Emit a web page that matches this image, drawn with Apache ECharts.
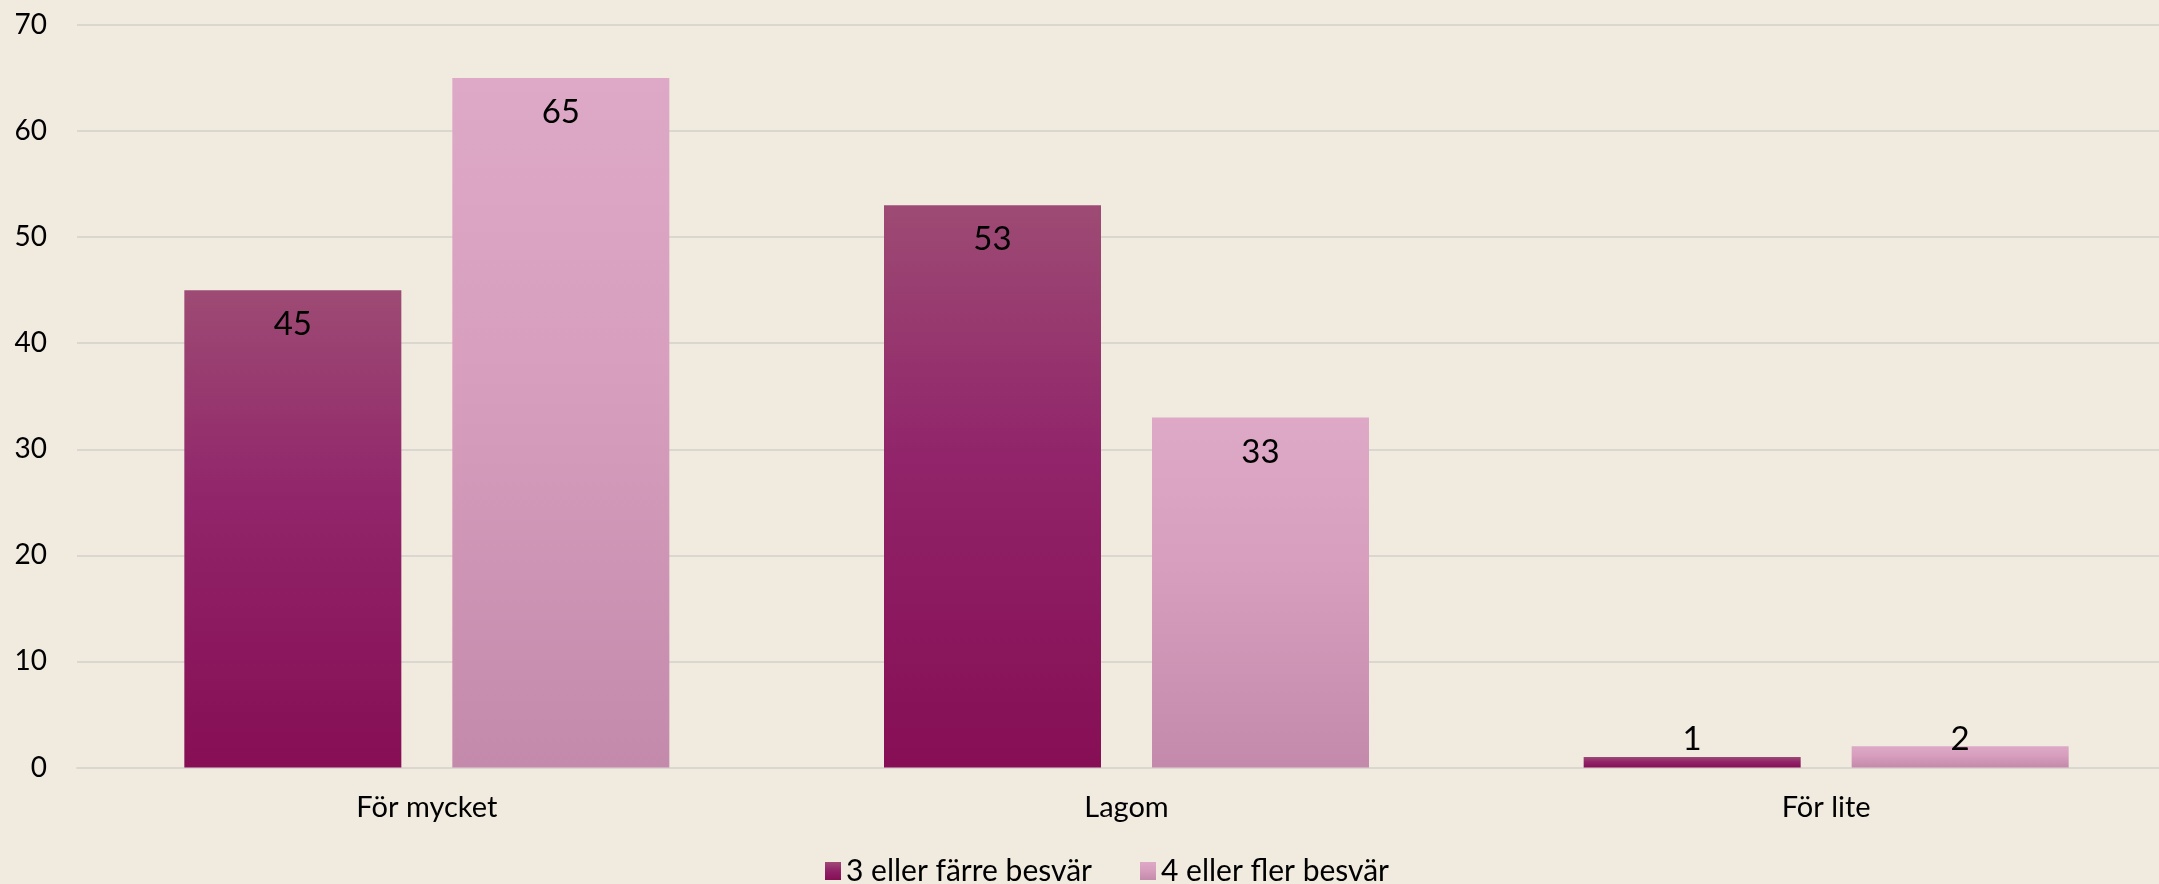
<!DOCTYPE html>
<html>
<head>
<meta charset="utf-8">
<script src="https://cdn.jsdelivr.net/npm/echarts@6/dist/echarts.min.js"></script>
<style>
html,body{margin:0;padding:0;background:#F0EADF;}
#chart{width:2159px;height:884px;}
</style>
</head>
<body>
<div id="chart"></div>
<script>
var categories = ['För mycket', 'Lagom', 'För lite'];
var seriesNames = ['3 eller färre besvär', '4 eller fler besvär'];
var valuesFew = [45, 53, 1];
var valuesMany = [65, 33, 2];
var yTicks = [0, 10, 20, 30, 40, 50, 60, 70];

var FONT = 'Lato, "Open Sans", sans-serif';

function grad(stops) {
  return new echarts.graphic.LinearGradient(0, 0, 0, 1, stops);
}
var darkFill = grad([
  {offset: 0, color: '#9D4B74'},
  {offset: 0.45, color: '#91246A'},
  {offset: 1, color: '#860E54'}
]);
var lightFill = grad([
  {offset: 0, color: '#DDA9C6'},
  {offset: 0.4, color: '#D89FBF'},
  {offset: 1, color: '#C38AAB'}
]);

function buildData(arr) {
  return arr.map(function (v) {
    if (v < 5) {
      return {value: v, label: {position: 'insideBottom', distance: 12}};
    }
    return {value: v};
  });
}

var labelStyle = {
  show: true,
  position: 'insideTop',
  distance: 18,
  color: '#000000',
  fontFamily: FONT,
  fontSize: 33
};

var chart = echarts.init(document.getElementById('chart'), null, {renderer: 'canvas'});
chart.setOption({
  backgroundColor: '#F0EADF',
  animation: false,
  textStyle: {fontFamily: FONT},
  grid: {left: 77, width: 2099, top: 25, bottom: 116.5, containLabel: false, outerBoundsMode: 'none'},
  legend: {
    data: seriesNames,
    left: 820,
    top: 851,
    itemWidth: 16,
    itemHeight: 18,
    itemGap: 48,
    textStyle: {fontFamily: FONT, fontSize: 30, color: '#000000'},
    icon: 'rect'
  },
  xAxis: {
    type: 'category',
    data: categories,
    axisLine: {show: true, lineStyle: {color: '#DAD7D1', width: 2}},
    axisTick: {show: false},
    axisLabel: {fontFamily: FONT, fontSize: 29, color: '#000000', margin: 26}
  },
  yAxis: {
    type: 'value',
    min: yTicks[0],
    max: yTicks[yTicks.length - 1],
    interval: 10,
    axisLine: {show: false},
    axisTick: {show: false},
    axisLabel: {fontFamily: FONT, fontSize: 28, color: '#000000', margin: 30},
    splitLine: {show: true, lineStyle: {color: '#DAD7D1', width: 2}}
  },
  series: [
    {
      name: seriesNames[0],
      type: 'bar',
      data: buildData(valuesFew),
      barWidth: 217,
      barGap: '23.5%',
      itemStyle: {color: darkFill},
      label: labelStyle
    },
    {
      name: seriesNames[1],
      type: 'bar',
      data: buildData(valuesMany),
      barWidth: 217,
      barGap: '23.5%',
      itemStyle: {color: lightFill},
      label: labelStyle
    }
  ]
});
</script>
</body>
</html>
